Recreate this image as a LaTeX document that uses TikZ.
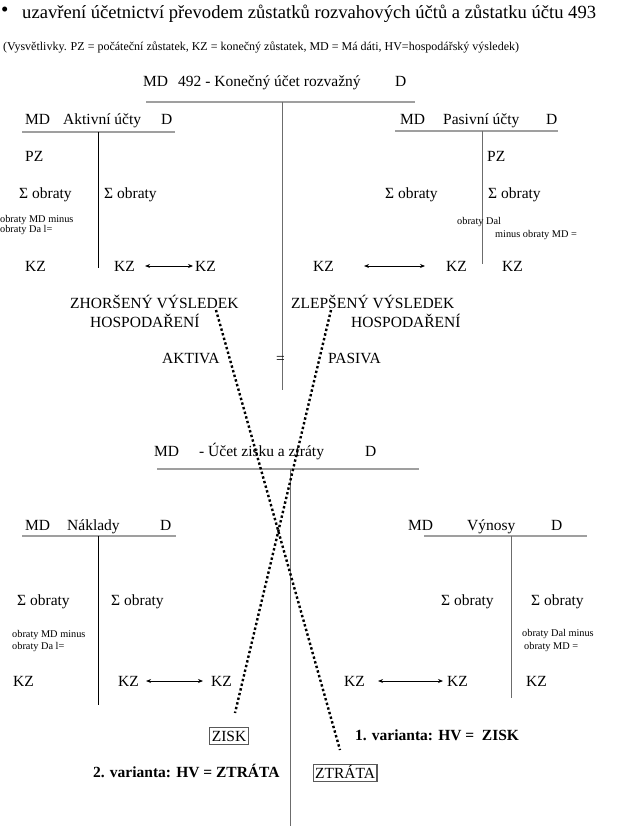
\documentclass[tikz,border=0pt]{standalone}
\usepackage{fontspec}
\setmainfont{Liberation Serif}
\usetikzlibrary{arrows.meta}

\begin{document}
\begin{tikzpicture}[x=1pt,y=-1pt,
  every node/.style={inner sep=0pt},
  txt/.style={anchor=west,font=\fontsize{15.5}{17}\selectfont,text height=10.2pt,text depth=0pt},
  small/.style={anchor=west,font=\fontsize{10.3}{11}\selectfont,text height=6.8pt,text depth=0pt},
  bold/.style={txt,font=\fontsize{15.5}{17}\selectfont\bfseries},
  hline/.style={draw=gray!75,line width=1.6pt},
  vline/.style={draw=black,line width=0.8pt},
  vgray/.style={draw=gray!85!black,line width=1pt},
  kzarrow/.style={{Stealth[length=5pt,width=4pt]}-{Stealth[length=5pt,width=4pt]},line width=0.8pt},
  hvline/.style={line width=2.4pt,dash pattern=on 2.4pt off 2.4pt},
  hvbox/.style={draw=gray!70!black,line width=1.1pt,inner xsep=2pt,inner ysep=3pt,
    font=\fontsize{15.5}{17}\selectfont,text height=10.2pt,text depth=0pt}]
\useasboundingbox (0,0) rectangle (622,826);
% title
\node[anchor=west,font=\fontsize{21}{22}\selectfont] (bullet) at (1,12) {•};
\node[anchor=west,font=\fontsize{18.6}{20}\selectfont,text height=12.3pt,text depth=0pt] (title) at (22,12)
  {uzavření účetnictví převodem zůstatků rozvahových účtů a zůstatku účtu 493};
\node[anchor=west,font=\fontsize{12}{13}\selectfont,text height=7.9pt,text depth=0pt] (expl) at (3,47)
  {(Vysvětlivky. PZ = počáteční zůstatek, KZ = konečný zůstatek, MD = Má dáti, HV=hospodářský výsledek)};

% 492 - Konecny ucet rozvazny
\node[txt] (mdK) at (143,81) {MD};
\node[txt] (nameK) at (178,81) {492 - Konečný účet rozvažný};
\node[txt] (dK) at (395,81) {D};
\draw[hline] (146,102) -- (415,102);
\draw[vgray] (282,102) -- (282,390);

% Aktivni ucty
\node[txt] (mdA) at (25,119) {MD};
\node[txt] (nameA) at (63,119) {Aktivní účty};
\node[txt] (dA) at (161,119) {D};
\draw[hline] (22,132) -- (175,132);
\draw[vline] (98,132) -- (98,268);
\node[txt] (pzA) at (25,156) {PZ};
\node[txt] (obA1) at (19,193) {Σ obraty};
\node[txt] (obA2) at (104,193) {Σ obraty};
\node[small] (minA1) at (0,219) {obraty MD minus};
\node[small] (minA2) at (0,229) {obraty Da l=};
\node[txt] (kzA1) at (25,266) {KZ};
\node[txt] (kzA2) at (114,266) {KZ};
\node[txt] (kzA3) at (195,266) {KZ};
\draw[kzarrow] ([xshift=10pt]kzA2.east) -- ([xshift=-2pt]kzA3.west);

% Pasivni ucty
\node[txt] (mdP) at (400,119) {MD};
\node[txt] (nameP) at (443,119) {Pasivní účty};
\node[txt] (dP) at (546,119) {D};
\draw[hline] (395,131) -- (558,131);
\draw[vgray] (482,131) -- (482,264);
\node[txt] (pzP) at (487,156) {PZ};
\node[txt] (obP1) at (385,193) {Σ obraty};
\node[txt] (obP2) at (488,193) {Σ obraty};
\node[small] (minP1) at (457,221) {obraty Dal};
\node[small] (minP2) at (495,234) {minus obraty MD =};
\node[txt] (kzP1) at (313,266) {KZ};
\node[txt] (kzP2) at (446,266) {KZ};
\node[txt] (kzP3) at (502,266) {KZ};
\draw[kzarrow] ([xshift=30pt]kzP1.east) -- ([xshift=-21pt]kzP2.west);

% vysledek hospodareni
\node[txt] (zhor1) at (70,303) {ZHORŠENÝ VÝSLEDEK};
\node[txt] (zhor2) at (90,322) {HOSPODAŘENÍ};
\node[txt] (zlep1) at (291,303) {ZLEPŠENÝ VÝSLEDEK};
\node[txt] (zlep2) at (351,322) {HOSPODAŘENÍ};
\node[txt] (akt) at (162,358) {AKTIVA};
\node[txt] (eq) at (276,358) {=};
\node[txt] (pas) at (328,358) {PASIVA};

% Ucet zisku a ztraty
\node[txt] (mdZ) at (154,451) {MD};
\node[txt] (nameZ) at (199,451) {- Účet zisku a ztráty};
\node[txt] (dZ) at (365,451) {D};
\draw[hline] (157,469) -- (419,469);
\draw[vgray] (290,469) -- (290,826);

% Naklady
\node[txt] (mdN) at (25,525) {MD};
\node[txt] (nameN) at (67,525) {Náklady};
\node[txt] (dN) at (160,525) {D};
\draw[hline] (22,536) -- (176,536);
\draw[vline] (98,536) -- (98,705);
\node[txt] (obN1) at (17,600) {Σ obraty};
\node[txt] (obN2) at (111,600) {Σ obraty};
\node[small] (minN1) at (12,634) {obraty MD minus};
\node[small] (minN2) at (12,646) {obraty Da l=};
\node[txt] (kzN1) at (13,681) {KZ};
\node[txt] (kzN2) at (118,681) {KZ};
\node[txt] (kzN3) at (211,681) {KZ};
\draw[kzarrow] ([xshift=7pt]kzN2.east) -- ([xshift=-8pt]kzN3.west);

% Vynosy
\node[txt] (mdV) at (408,525) {MD};
\node[txt] (nameV) at (467,525) {Výnosy};
\node[txt] (dV) at (551,525) {D};
\draw[hline] (424,536) -- (587,536);
\draw[vgray] (511,536) -- (511,698);
\node[txt] (obV1) at (441,600) {Σ obraty};
\node[txt] (obV2) at (531,600) {Σ obraty};
\node[small] (minV1) at (522,633) {obraty Dal minus};
\node[small] (minV2) at (524,646) {obraty MD =};
\node[txt] (kzV1) at (344,681) {KZ};
\node[txt] (kzV2) at (447,681) {KZ};
\node[txt] (kzV3) at (526,681) {KZ};
\draw[kzarrow] ([xshift=13pt]kzV1.east) -- ([xshift=-4pt]kzV2.west);

% zisk / ztrata
\node[hvbox] (zisk) at (229,736) {ZISK};
\node[hvbox] (ztrata) at (345,773) {ZTRÁTA};
\node[bold] (var1) at (355,735) {1. varianta: HV =\ \ ZISK};
\node[bold] (var2) at (93,772) {2. varianta: HV = ZTRÁTA};
\coordinate (zhorEnd) at (216,310);
\coordinate (zlepEnd) at (331,310);
\coordinate (ziskEnd) at (235,713);
\coordinate (ztrataEnd) at (340,750);
\draw[hvline] (zhorEnd) -- (ztrataEnd);
\draw[hvline] (zlepEnd) -- (ziskEnd);
\end{tikzpicture}
\end{document}
